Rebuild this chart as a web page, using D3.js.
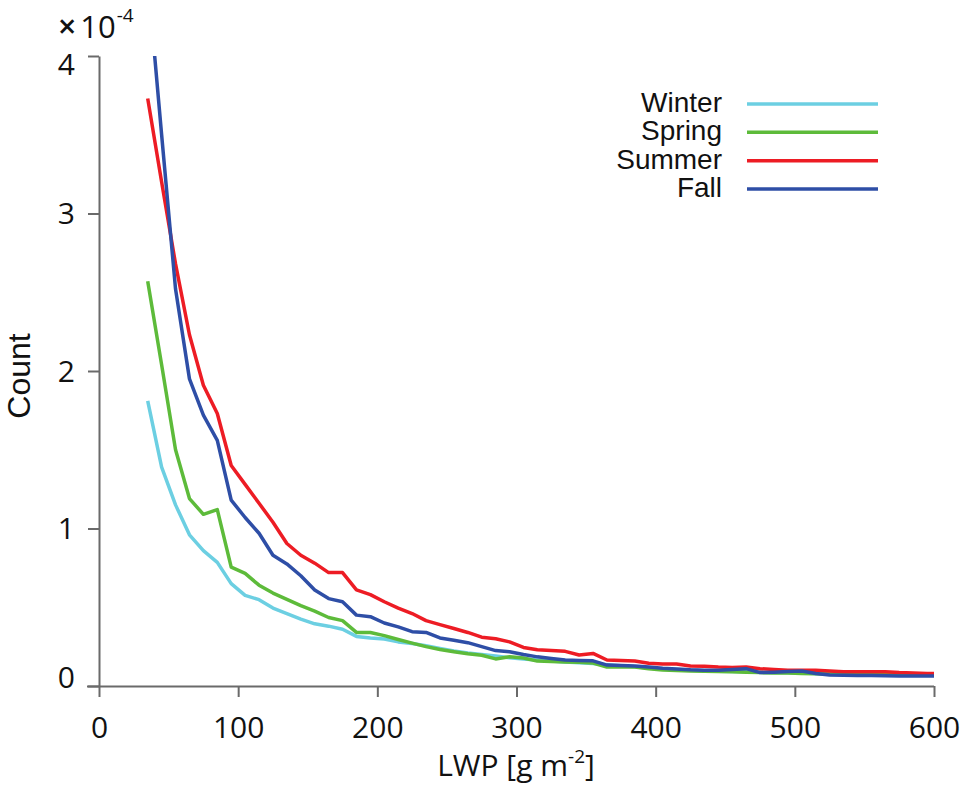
<!DOCTYPE html>
<html>
<head>
<meta charset="utf-8">
<script src="https://cdn.jsdelivr.net/npm/d3@7"></script>
<style>
  html, body { margin: 0; padding: 0; background: #fff; }
  svg { display: block; }
</style>
</head>
<body>
<svg id="chart" width="963" height="786"></svg>
<script>
// LWP bin centres [g m^-2]
const lwp = [35,45,55,65,75,85,95,105,115,125,135,145,155,165,175,185,195,205,215,225,
  235,245,255,265,275,285,295,305,315,325,335,345,355,365,375,385,395,405,415,425,
  435,445,455,465,475,485,495,505,515,525,535,545,555,565,575,585,595,605];

// Count values in units of 1e-4
const winter = [1.81,1.39,1.15,0.96,0.86,0.785,0.65,0.575,0.548,0.495,0.46,0.425,0.395,0.38,0.36,0.315,0.305,0.298,0.28,0.27,
  0.255,0.238,0.222,0.21,0.2,0.19,0.18,0.172,0.165,0.158,0.152,0.148,0.143,0.135,0.128,0.122,0.115,0.108,0.104,0.1,
  0.097,0.094,0.092,0.09,0.088,0.086,0.084,0.082,0.08,0.078,0.077,0.076,0.075,0.074,0.073,0.072,0.071,0.07];
const spring = [2.57,2.04,1.50,1.19,1.09,1.12,0.755,0.715,0.64,0.59,0.55,0.51,0.475,0.435,0.415,0.34,0.34,0.32,0.295,0.272,
  0.25,0.232,0.218,0.205,0.195,0.172,0.186,0.178,0.158,0.155,0.152,0.15,0.146,0.12,0.12,0.12,0.11,0.102,0.098,0.095,
  0.093,0.092,0.09,0.088,0.085,0.083,0.082,0.08,0.078,0.076,0.075,0.074,0.073,0.072,0.071,0.07,0.07,0.07];
const summer = [3.73,3.20,2.68,2.23,1.91,1.73,1.40,1.28,1.16,1.04,0.905,0.83,0.78,0.72,0.72,0.61,0.58,0.535,0.495,0.46,
  0.415,0.39,0.365,0.34,0.31,0.30,0.28,0.245,0.23,0.225,0.22,0.197,0.207,0.165,0.162,0.159,0.145,0.14,0.14,0.127,
  0.125,0.12,0.118,0.12,0.11,0.105,0.10,0.10,0.10,0.095,0.09,0.09,0.09,0.09,0.085,0.082,0.08,0.08];
const fall = [4.50,3.50,2.52,1.95,1.72,1.56,1.18,1.07,0.97,0.83,0.775,0.70,0.61,0.555,0.535,0.45,0.44,0.40,0.375,0.345,
  0.34,0.305,0.29,0.275,0.25,0.225,0.218,0.20,0.185,0.175,0.165,0.162,0.16,0.133,0.13,0.127,0.12,0.113,0.108,0.103,
  0.10,0.10,0.105,0.11,0.085,0.088,0.092,0.095,0.08,0.07,0.068,0.067,0.066,0.065,0.064,0.063,0.063,0.063];

const seriesNames = ["Winter","Spring","Summer","Fall"];
const seriesColors = ["#6ccfe2","#5dbb3a","#ed1c24","#2e4ea6"];
const xTicks = [0,100,200,300,400,500,600];
const yTicks = [0,1,2,3,4];

(function () {
const svg = d3.select("#chart");
const pL = 99, pR = 934, pT = 56, pB = 686;
const x = d3.scaleLinear().domain([0,600]).range([pL,pR]);
const y = d3.scaleLinear().domain([0,4]).range([pB,pT]);

const tickFont = "'Open Sans', sans-serif";

svg.append("defs").append("clipPath").attr("id","plotclip")
  .append("rect").attr("x",pL).attr("y",pT).attr("width",pR-pL).attr("height",pB-pT);

// X axis
const gx = svg.append("g").attr("transform",`translate(0,${pB})`)
  .call(d3.axisBottom(x).tickValues(xTicks).tickFormat(d3.format("d")).tickSize(11).tickSizeOuter(0).tickPadding(20));
gx.select(".domain").attr("d",`M${pL-12},0.5H${pR}`).attr("stroke","#6a6a6a").attr("stroke-width",2);
gx.selectAll(".tick line").attr("stroke","#6a6a6a").attr("stroke-width",2);
gx.selectAll(".tick text").attr("font-family",tickFont).attr("font-size",30).attr("fill","#111");

// Y axis
const gy = svg.append("g").attr("transform",`translate(${pL},0)`)
  .call(d3.axisLeft(y).tickValues(yTicks).tickFormat(d3.format("d")).tickSize(11).tickSizeOuter(0).tickPadding(13));
gy.select(".domain").attr("stroke","#6a6a6a").attr("stroke-width",2);
gy.selectAll(".tick line").attr("stroke","#6a6a6a").attr("stroke-width",2);
gy.selectAll(".tick text").attr("font-family",tickFont).attr("font-size",30).attr("fill","#111")
  .attr("dy", d => d === 4 ? "0.62em" : (d === 0 ? "0.06em" : "0.34em"));

// Multiplier label
const mult = svg.append("text").attr("x",58).attr("y",38)
  .attr("font-family",tickFont).attr("fill","#111");
mult.append("tspan").attr("font-size",32).attr("font-weight",600).text("×");
mult.append("tspan").attr("font-size",31).attr("dx",4).text("10");
mult.append("tspan").attr("font-size",19).attr("dx",1).attr("dy",-16).text("-4");

// Axis titles
svg.append("text").attr("x",516).attr("y",776).attr("text-anchor","middle")
  .attr("font-family",tickFont).attr("font-size",30).attr("fill","#111")
  .html('LWP [g m<tspan dy="-13" font-size="19">-2</tspan><tspan dy="13">]</tspan>');
svg.append("text").attr("transform","translate(30,376) rotate(-90)").attr("text-anchor","middle")
  .attr("font-family","'Liberation Sans', Arial, sans-serif").attr("font-size",32).attr("fill","#111").text("Count");

// Lines
const allSeries = [winter, spring, summer, fall];
const line = d3.line().x((d,i) => x(lwp[i])).y(d => y(d));
const plot = svg.append("g").attr("clip-path","url(#plotclip)");
allSeries.forEach((vals,k) => {
  plot.append("path").datum(vals).attr("d",line)
    .attr("fill","none").attr("stroke",seriesColors[k]).attr("stroke-width",3.5)
    .attr("stroke-linejoin","round");
});

// Legend
const legY = d3.scalePoint().domain(seriesNames).range([104,189]);
const leg = svg.append("g");
seriesNames.forEach((name,k) => {
  leg.append("line").attr("x1",747).attr("x2",878).attr("y1",legY(name)).attr("y2",legY(name))
    .attr("stroke",seriesColors[k]).attr("stroke-width",3.5);
  leg.append("text").attr("x",722).attr("y",legY(name)+8).attr("text-anchor","end")
    .attr("font-family","'Liberation Sans', Arial, sans-serif").attr("font-size",28).attr("fill","#111")
    .text(name);
});
})();
</script>
</body>
</html>
